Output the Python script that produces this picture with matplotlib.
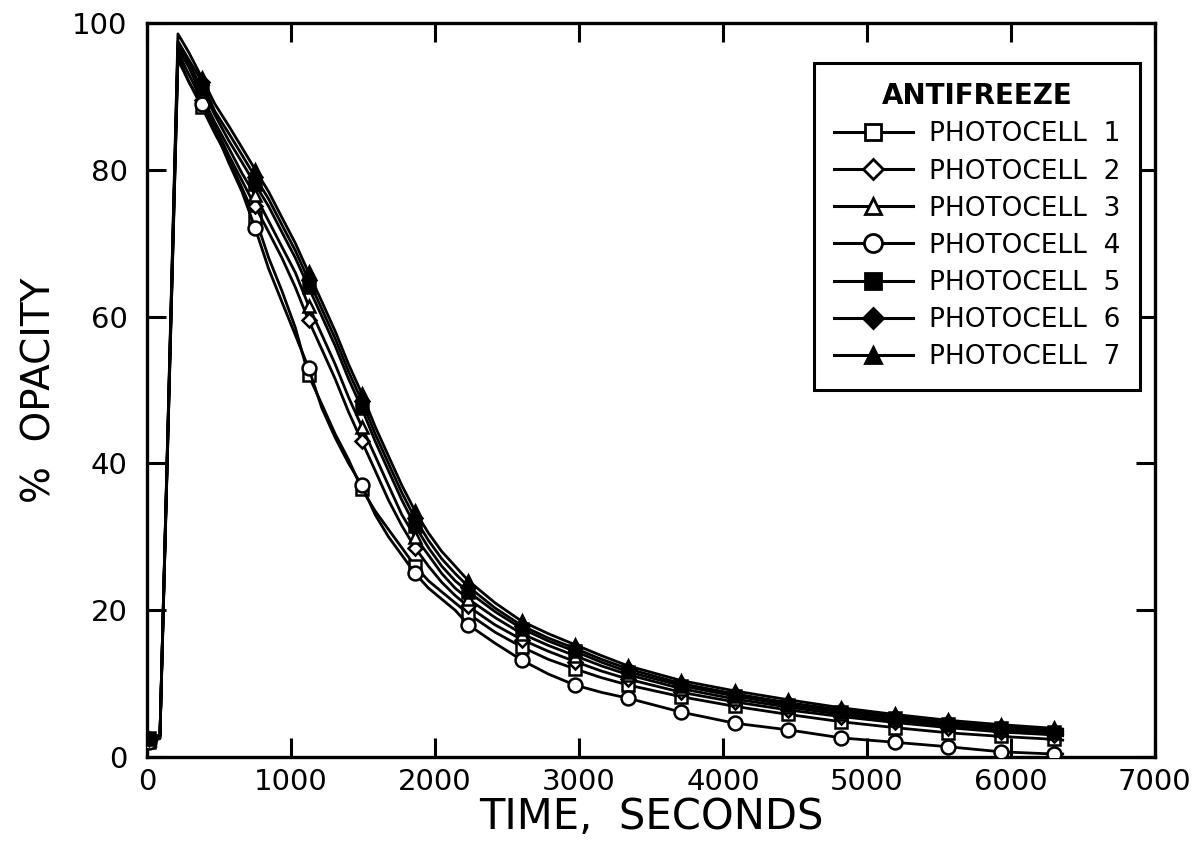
import matplotlib
matplotlib.use("Agg")
import matplotlib.pyplot as plt
from matplotlib.lines import Line2D

plt.rcParams['font.family'] = ['DejaVu Sans']

# time grid (seconds)
time_s = [0, 12, 90, 215, 290, 382, 470, 567, 660, 752, 845, 937, 1030, 1122, 1215,
          1307, 1400, 1492, 1585, 1677, 1770, 1862, 1955, 2047, 2140, 2232, 2417, 2602,
          2787, 2972, 3157, 3342, 3712, 4082, 4452, 4822, 5192, 5562, 5932, 6302, 6360]

photocell_1 = [2.0, 2.0, 2.6, 95.5, 92.0, 88.5, 85.0, 81.5, 77.5, 73.5, 68.0, 63.5, 58.5, 52.0, 48.0,
               44.0, 40.5, 36.5, 33.5, 31.0, 28.5, 26.0, 24.0, 22.5, 21.0, 19.5, 17.0, 15.0,
               13.3, 12.0, 10.8, 9.8, 8.2, 6.9, 5.8, 4.8, 4.0, 3.3, 2.8, 2.4, 2.3]
photocell_2 = [2.2, 2.2, 2.8, 96.0, 93.0, 89.5, 86.0, 82.0, 78.5, 75.0, 71.5, 68.0, 64.0, 59.5, 55.5,
               51.5, 47.0, 43.0, 39.0, 35.0, 31.5, 28.5, 26.0, 23.8, 22.0, 20.5, 18.0, 16.0,
               14.4, 13.0, 11.7, 10.6, 8.8, 7.5, 6.4, 5.5, 4.7, 4.0, 3.4, 3.0, 2.9]
photocell_3 = [2.3, 2.3, 2.8, 96.5, 94.0, 90.0, 86.5, 83.0, 79.5, 76.5, 73.0, 69.5, 66.0, 61.5, 57.5,
               53.5, 49.0, 45.0, 41.0, 37.0, 33.0, 30.0, 27.5, 25.0, 23.0, 21.5, 19.0, 16.8,
               15.2, 13.8, 12.4, 11.2, 9.3, 7.9, 6.8, 5.8, 5.0, 4.3, 3.7, 3.2, 3.1]
photocell_4 = [2.0, 2.0, 2.5, 95.0, 92.0, 89.0, 85.5, 81.0, 77.0, 72.0, 66.5, 62.0, 57.5, 53.0, 47.5,
               43.5, 40.0, 37.0, 33.0, 30.0, 27.5, 25.0, 23.0, 21.5, 20.0, 18.0, 15.5, 13.2,
               11.3, 9.8, 8.8, 8.0, 6.1, 4.6, 3.7, 2.6, 2.0, 1.4, 0.7, 0.4, 0.4]
photocell_5 = [2.6, 2.6, 3.0, 97.0, 94.5, 91.0, 87.5, 84.0, 81.0, 78.0, 75.0, 71.5, 68.0, 64.0, 60.0,
               56.0, 51.5, 47.5, 43.0, 39.0, 35.0, 31.5, 28.5, 26.0, 24.0, 22.5, 19.8, 17.5,
               15.8, 14.4, 12.9, 11.6, 9.7, 8.3, 7.1, 6.1, 5.3, 4.5, 3.9, 3.4, 3.3]
photocell_6 = [2.4, 2.4, 3.0, 97.5, 95.0, 92.0, 88.0, 85.0, 82.0, 79.0, 76.0, 72.5, 69.0, 65.0, 61.0,
               57.0, 52.5, 48.5, 44.0, 40.0, 36.0, 32.5, 29.5, 27.0, 25.0, 23.2, 20.3, 17.9,
               16.2, 14.8, 13.3, 12.0, 10.0, 8.6, 7.4, 6.4, 5.5, 4.7, 4.1, 3.6, 3.5]
photocell_7 = [2.5, 2.5, 3.0, 98.5, 96.0, 92.5, 89.0, 86.0, 83.0, 80.0, 77.0, 73.5, 70.0, 66.0, 62.0,
               58.0, 53.5, 49.5, 45.0, 41.0, 37.0, 33.5, 30.5, 28.0, 26.0, 24.0, 21.0, 18.5,
               16.8, 15.3, 13.8, 12.4, 10.4, 9.0, 7.8, 6.7, 5.8, 5.0, 4.4, 3.9, 3.8]

labels = ['PHOTOCELL  1', 'PHOTOCELL  2', 'PHOTOCELL  3', 'PHOTOCELL  4',
          'PHOTOCELL  5', 'PHOTOCELL  6', 'PHOTOCELL  7']
x_ticks = [0, 1000, 2000, 3000, 4000, 5000, 6000, 7000]
y_ticks = [0, 20, 40, 60, 80, 100]

series = [photocell_1, photocell_2, photocell_3, photocell_4,
          photocell_5, photocell_6, photocell_7]
markers = ['s', 'D', '^', 'o', 's', 'D', '^']
faces = ['white', 'white', 'white', 'white', 'black', 'black', 'black']
msizes = [8, 7, 9, 10, 8, 7, 9]

mark_idx = [i for i, t in enumerate(time_s) if (t - 12) % 370 == 0]

fig = plt.figure(figsize=(11.98, 8.49), dpi=100)
ax = fig.add_axes([0.1227, 0.1084, 0.8413, 0.8646])

handles = []
order = [6, 5, 4, 2, 1, 0, 3]
for i in order:
    ax.plot(time_s, series[i], color='black', lw=2.0, marker=markers[i],
            markevery=mark_idx, ms=msizes[i], mfc=faces[i], mec='black', mew=1.8,
            zorder=3 + i * 0.1)
for i in range(7):
    handles.append(Line2D([0], [0], color='black', lw=2.2, marker=markers[i],
                          ms=msizes[i] + 3, mfc=faces[i], mec='black', mew=2.0))

ax.set_xlim(0, 7000)
ax.set_ylim(0, 100)
ax.set_xticks(x_ticks)
ax.set_yticks(y_ticks)
ax.tick_params(axis='x', which='major', direction='in', length=14, width=2.2,
               top=True, labelsize=21, pad=8)
ax.tick_params(axis='y', which='major', direction='in', length=14, width=2.2,
               right=True, labelsize=21, pad=14)
for sp in ax.spines.values():
    sp.set_linewidth(2.4)

ax.set_xlabel('TIME,  SECONDS', fontsize=30, labelpad=0)
ax.set_ylabel('%  OPACITY', fontsize=28, labelpad=10)

leg = ax.legend(handles, labels, title='ANTIFREEZE', loc='upper right',
                bbox_to_anchor=(0.985, 0.946), borderaxespad=0, fancybox=False,
                edgecolor='black', framealpha=1, fontsize=19, title_fontsize=20,
                handlelength=3.0, handletextpad=0.6, labelspacing=0.42,
                borderpad=0.75)
leg.get_frame().set_linewidth(2.2)
leg.get_title().set_fontweight('bold')

fig.savefig('out.png', dpi=100)
